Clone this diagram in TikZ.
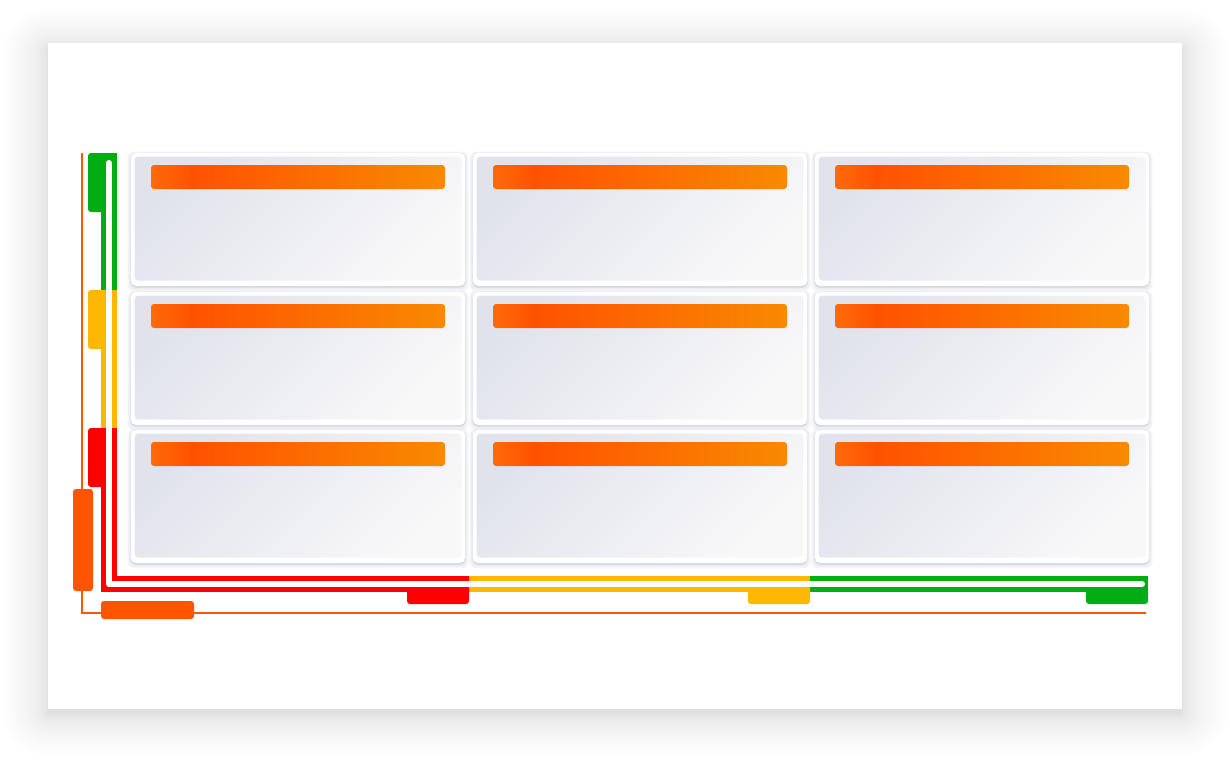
\documentclass[tikz,border=0pt]{standalone}
\definecolor{pgOrange}{HTML}{FF5500}
\definecolor{bGreen}{HTML}{00AD12}
\definecolor{bYellow}{HTML}{FFB800}
\definecolor{bRed}{HTML}{FF0000}
\definecolor{hdrL}{HTML}{FF6A0A}
\definecolor{hdrA}{HTML}{FF5200}
\definecolor{hdrB}{HTML}{F88A00}
\definecolor{cardA}{HTML}{E1E3EC}
\definecolor{cardB}{HTML}{F8F8F9}
\definecolor{cardShadow}{HTML}{C8CBDA}
\pgfdeclarehorizontalshading{hdrshade}{100bp}{color(0bp)=(hdrL); color(25bp)=(hdrL); color(32bp)=(hdrA); color(75bp)=(hdrB); color(100bp)=(hdrB)}
\begin{document}
\begin{tikzpicture}[x=0.5pt,y=-0.5pt,
  cardbody/.style={rectangle, inner sep=0pt, outer sep=0pt, rounded corners=2pt,
    minimum width=163.5pt, minimum height=62pt, anchor=north west,
    top color=cardA, bottom color=cardB, shading angle=45},
  hdrbar/.style={rectangle, inner sep=0pt, outer sep=0pt, rounded corners=1.5pt,
    minimum width=147pt, minimum height=12pt, anchor=north west, shading=hdrshade},
  band/.style={line width=8pt},
  tab/.style={rounded corners=1.5pt},
  inner/.style={white, line width=3pt, line cap=round, line join=round},
  guide/.style={pgOrange, line width=1pt}]
\useasboundingbox (0,0) rectangle (1230,762);
% page shadow (soft)
\foreach \i in {1,...,32}{
  \pgfmathsetmacro{\s}{0.046*\i*\i}
  \fill[black, opacity=0.0052, rounded corners=\s*0.5pt]
    (48-\s,43-\s*0.85+5) rectangle (1182+\s,709+\s*0.9+5);
}
\fill[white] (48,43) rectangle (1182,709);
% cards
\foreach \c/\cx in {1/131,2/473,3/815}
  \foreach \r/\ry in {1/153,2/292,3/430} {
    \foreach \k in {1,...,4}
      \fill[cardShadow, opacity=0.12, rounded corners=3pt]
        (\cx-\k*0.9,\ry-\k*0.6+1) rectangle (\cx+334+\k*0.9,\ry+133+\k*1.1+1);
    \fill[cardShadow!80, rounded corners=2.5pt] (\cx,\ry+1) rectangle (\cx+334,\ry+134.5);
    \fill[white, rounded corners=2.5pt] (\cx,\ry) rectangle (\cx+334,\ry+133);
    \node[cardbody] (card\r\c) at (\cx+3.5,\ry+3.5) {};
    \node[hdrbar] (hdr\r\c) at (\cx+20,\ry+12) {};
  }
% guide line and orange tabs
\draw[guide] (81.7,153) -- (81.7,612.7) -- (1146,612.7);
\fill[pgOrange, tab] (73,489) rectangle (93,591);
\fill[pgOrange, tab] (101,601) rectangle (194,619);
% coloured band
\draw[band, bGreen] (109,153) -- (109,290);
\draw[band, bYellow] (109,290) -- (109,428);
\draw[band, bRed, line join=miter] (109,428) -- (109,584) -- (469,584);
\draw[band, bYellow] (469,584) -- (810,584);
\draw[band, bGreen] (810,584) -- (1148,584);
% band tabs
\fill[bGreen, tab] (88,153) rectangle (106,212);
\fill[bYellow, tab] (88,290) rectangle (106,349);
\fill[bRed, tab] (88,428) rectangle (106,487);
\fill[bRed, tab] (407,586) rectangle (469,604);
\fill[bYellow, tab] (748,586) rectangle (810,604);
\fill[bGreen, tab] (1086,586) rectangle (1148,604);
% white core
\draw[inner] (109,163) -- (109,584) -- (1142,584);
\end{tikzpicture}
\end{document}
